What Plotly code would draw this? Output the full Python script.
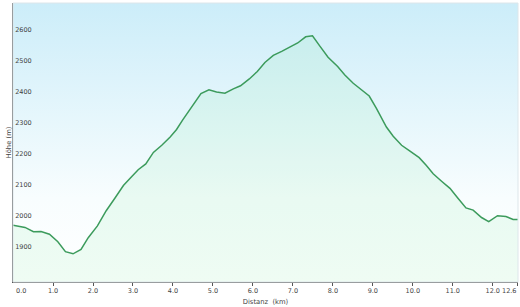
import plotly.graph_objects as go

distance_km = [0.0, 0.3, 0.51, 0.7, 0.91, 1.12, 1.31, 1.5, 1.7, 1.88, 2.11, 2.33, 2.55, 2.76,
               2.97, 3.13, 3.32, 3.51, 3.72, 3.93, 4.09, 4.24, 4.7, 4.9, 5.09, 5.3, 5.51,
               5.69, 5.91, 6.11, 6.3, 6.51, 6.72, 6.91, 7.12, 7.32, 7.49, 7.68, 7.88, 8.12,
               8.3, 8.51, 8.72, 8.91, 9.09, 9.26, 9.34, 9.51, 9.72, 9.93, 10.16, 10.34,
               10.51, 10.72, 10.93, 11.13, 11.33, 11.51, 11.72, 11.9, 12.12, 12.33, 12.51, 12.63]
elevation_m = [1983, 1976, 1962, 1963, 1954, 1930, 1898, 1891, 1905, 1943, 1981, 2030, 2071, 2111,
               2140, 2162, 2181, 2218, 2241, 2268, 2292, 2322, 2408, 2420, 2413, 2409, 2423,
               2433, 2455, 2479, 2508, 2531, 2544, 2558, 2571, 2591, 2594, 2560, 2525, 2495,
               2468, 2441, 2421, 2400, 2360, 2322, 2300, 2270, 2241, 2222, 2201, 2176,
               2149, 2125, 2102, 2070, 2039, 2032, 2008, 1995, 2014, 2011, 2002, 2002]

x_tick_vals = [0, 1, 2, 3, 4, 5, 6, 7, 8, 9, 10, 11, 12, 12.63]
x_tick_text = ["0.0", "1.0", "2.0", "3.0", "4.0", "5.0", "6.0", "7.0", "8.0", "9.0",
               "10.0", "11.0", "12.0", "12.6"]
y_tick_vals = [1900, 2000, 2100, 2200, 2300, 2400, 2500, 2600]

x_range = [-0.002, 12.632]
y_range = [1800, 2700]

# end labels are drawn as annotations (aligned inward like the original)
axis_text = [""] + x_tick_text[1:-1] + [""]

fig = go.Figure()

# background gradient (sky)
fig.add_trace(go.Scatter(
    x=[x_range[0], x_range[1], x_range[1], x_range[0], x_range[0]],
    y=[y_range[0], y_range[0], y_range[1], y_range[1], y_range[0]],
    mode="lines", line=dict(width=0), fill="toself",
    fillgradient=dict(type="vertical",
                      colorscale=[[0, "#ffffff"], [0.3, "#f8fdfe"], [1, "#ccedf9"]]),
    hoverinfo="skip", showlegend=False))

# elevation profile
fig.add_trace(go.Scatter(
    x=distance_km, y=elevation_m, mode="lines",
    line=dict(color="#3c9b5c", width=1.5),
    fill="tozeroy",
    fillcolor="rgba(130,228,165,0.13)",
    showlegend=False))

tick_font = dict(family="DejaVu Sans", size=6.5, color="#444444")
title_font = dict(family="DejaVu Sans", size=6.8, color="#444444")

fig.update_layout(
    width=520, height=307,
    margin=dict(l=13, r=2, t=3, b=25),
    paper_bgcolor="white", plot_bgcolor="white",
    font=dict(family="DejaVu Sans", size=7, color="#444444"),
    shapes=[dict(type="rect", xref="paper", yref="paper", x0=0, y0=0, x1=1, y1=1,
                 line=dict(color="#dde6ea", width=1), layer="above")],
    annotations=[
        dict(x=x_tick_vals[0], y=0, xref="x", yref="paper", text=x_tick_text[0],
             showarrow=False, xanchor="left", yanchor="top", xshift=2, yshift=-4,
             font=tick_font, borderpad=0),
        dict(x=x_tick_vals[-1], y=0, xref="x", yref="paper", text=x_tick_text[-1],
             showarrow=False, xanchor="right", yanchor="top", xshift=-1, yshift=-4,
             font=tick_font, borderpad=0),
    ],
)
fig.update_xaxes(
    range=x_range, tickvals=x_tick_vals, ticktext=axis_text,
    showgrid=False, zeroline=False, automargin=False,
    showline=True, linecolor="#555555", linewidth=1,
    ticks="outside", ticklen=3, tickcolor="#555555",
    tickangle=0, ticklabelstandoff=-1,
    tickfont=tick_font,
    title=dict(text="Distanz  (km)", font=title_font, standoff=5),
)
fig.update_yaxes(
    range=y_range, tickvals=y_tick_vals, automargin=False,
    showgrid=True, gridcolor="#bcd4de", gridwidth=1, zeroline=False,
    showline=True, linecolor="#555555", linewidth=1,
    ticks="", ticklabelposition="inside top",
    tickfont=tick_font,
    title=dict(text="Höhe (m)", font=title_font, standoff=2),
)

fig.write_html("out.html")
